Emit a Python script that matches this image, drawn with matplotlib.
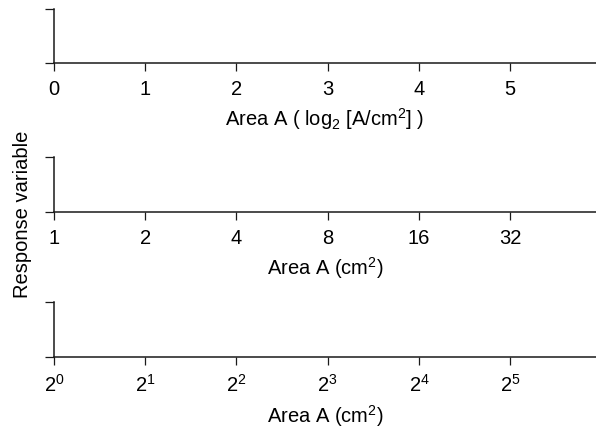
import matplotlib
matplotlib.use('Agg')
import matplotlib.pyplot as plt

plt.rcParams['font.family'] = ['Liberation Sans', 'DejaVu Sans']
plt.rcParams['mathtext.fontset'] = 'custom'
plt.rcParams['mathtext.rm'] = 'Liberation Sans'
plt.rcParams['mathtext.it'] = 'Liberation Sans'

# tick values for the three ways of labelling the same area axis
log_ticks = [0, 1, 2, 3, 4, 5]
area_ticks = [1, 2, 4, 8, 16, 32]
exp_labels = ['$2^{0}$', '$2^{1}$', '$2^{2}$', '$2^{3}$', '$2^{4}$', '$2^{5}$']
log_max = 5.94

xlabels = ['Area A ( log$_{2}$ [A/cm$^{2}$] )',
           'Area A (cm$^{2}$)',
           'Area A (cm$^{2}$)']
ylabel = 'Response variable'

ink = '#1a1a1a'
fs = 14.5

fig = plt.figure(figsize=(5.96, 4.28), dpi=100)

# [left, bottom, width, height] in figure fractions
boxes = [[0.0906, 0.8528, 0.9094, 0.1262],
         [0.0906, 0.5047, 0.9094, 0.1285],
         [0.0906, 0.1659, 0.9094, 0.1285]]

axes = [fig.add_axes(b) for b in boxes]

for i, ax in enumerate(axes):
	for s in ['top', 'right']:
		ax.spines[s].set_visible(False)
	for s in ['left', 'bottom']:
		ax.spines[s].set_color(ink)
		ax.spines[s].set_linewidth(1.1)
	ax.set_ylim(0, 1)
	ax.set_yticks([0, 1])
	ax.set_yticklabels([])
	ax.tick_params(axis='y', length=6.5, width=0.9, color=ink)
	ax.tick_params(axis='x', length=5.5, width=0.9, color=ink,
				   labelsize=fs, pad=7, labelcolor='black')
	ax.set_xlabel(xlabels[i], fontsize=fs, labelpad=5)

axes[0].set_xlim(0, log_max)
axes[0].set_xticks(log_ticks)
axes[0].set_xticklabels([str(t) for t in log_ticks])

axes[1].set_xscale('log', base=2)
axes[1].set_xlim(1, 2 ** log_max)
axes[1].set_xticks(area_ticks)
axes[1].set_xticklabels([str(t) for t in area_ticks])
axes[1].minorticks_off()

axes[2].set_xscale('log', base=2)
axes[2].set_xlim(1, 2 ** log_max)
axes[2].set_xticks(area_ticks)
axes[2].set_xticklabels(exp_labels)
axes[2].minorticks_off()

fig.text(0.037, 0.5, ylabel, rotation=90, ha='center', va='center', fontsize=fs)

fig.savefig('out.png', dpi=100)
